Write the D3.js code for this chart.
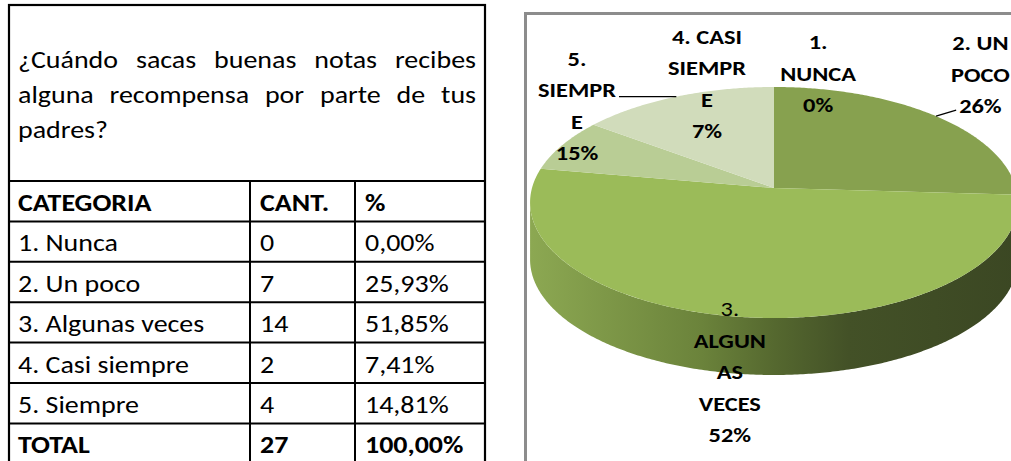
<!DOCTYPE html>
<html>
<head>
<meta charset="utf-8">
<script src="https://cdn.jsdelivr.net/npm/d3@7"></script>
<style>
  body { margin: 0; background: #fff; overflow: hidden; }
  svg { display: block; }
  text { font-family: Carlito, Calibri, Lato, sans-serif; fill: #000; }
</style>
</head>
<body>
<div id="container"></div>
<script>
'use strict'
// ---- data ----
const questionLines = [
  ["¿Cuándo", "sacas", "buenas", "notas", "recibes"],
  ["alguna", "recompensa", "por", "parte", "de", "tus"],
  ["padres?"]
];
const headers = ["CATEGORIA", "CANT.", "%"];
const categories = ["1. Nunca", "2. Un poco", "3. Algunas veces", "4. Casi siempre", "5. Siempre"];
const counts = [0, 7, 14, 2, 4];
const totalLabel = "TOTAL";
// pie labels as they wrap in the chart
const pieLabelLines = [
  ["1.", "NUNCA"],
  ["2. UN", "POCO"],
  ["3.", "ALGUN", "AS", "VECES"],
  ["4. CASI", "SIEMPR", "E"],
  ["5.", "SIEMPR", "E"]
];

// ---- styles / layout ----
const sliceColors = ["#6f8a3a", "#87a14f", "#9bbb59", "#b9cd95", "#d1dcbb"];
const labelPlace = [      // label block centre, polar in pie space (deg clockwise from top, radius factor)
  {a: 10.4, r: 1.155}, {a: 40.8, r: 1.49}, {a: 186.4, r: 1.36}, {a: 343, r: 1.069}, {a: 311.2, r: 1.188}
];
const sx = 1.19;   // the source text is stretched horizontally

const w = 1011, h = 461;
const svg = d3.select("#container").append("svg").attr("width", w).attr("height", h);

const total = d3.sum(counts);
const pct = v => (v / total * 100).toFixed(2).replace(".", ",") + "%";

// stretched text helper
function sText(g, str, x, y, size, weight, anchor) {
  const t = g.append("text").text(str)
    .attr("transform", `translate(${x},${y}) scale(${sx},1)`)
    .attr("text-anchor", anchor || "start")
    .style("font-size", size + "px")
    .style("font-weight", weight || "normal");
  return t;
}
const tw = t => t.node().getComputedTextLength() * sx;

//Table
const tLeft = 9, tRight = 485, tTop = 5;
const colX = [tLeft, 250, 355, tRight];
const headTop = 181, rowH = 40.4;
const rows = [headers]
  .concat(categories.map((c, i) => [c, String(counts[i]), pct(counts[i])]))
  .concat([[totalLabel, String(total), pct(total)]]);

const fs = 23.5;
// question, justified
const qg = svg.append("g");
questionLines.forEach((words, li) => {
  const y = 68 + li * 35;
  const ts = words.map(wd => sText(qg, wd, 0, y, fs));
  const widths = ts.map(tw);
  const last = li === questionLines.length - 1;
  const gap = last ? 6 : (476 - 18 - d3.sum(widths)) / (words.length - 1);
  let x = 18;
  ts.forEach((t, i) => { t.attr("transform", `translate(${x},${y}) scale(${sx},1)`); x += widths[i] + gap; });
});

const tg = svg.append("g");
rows.forEach((r, ri) => {
  const top = headTop + ri * rowH;
  const bold = ri === 0 || ri === rows.length - 1;
  r.forEach((cell, ci) => {
    sText(tg, cell, colX[ci] + (ci === 0 ? 9 : 10), top + 30, fs, bold ? "bold" : "normal");
  });
});
// grid lines
const hLines = d3.range(rows.length + 1).map(i => headTop + i * rowH);
tg.selectAll(".hl").data(hLines).enter().append("line")
  .attr("x1", tLeft).attr("x2", tRight).attr("y1", d => d).attr("y2", d => d)
  .attr("stroke", "#000").attr("stroke-width", 2);
tg.selectAll(".vl").data(colX.slice(1, 3)).enter().append("line")
  .attr("x1", d => d).attr("x2", d => d).attr("y1", headTop).attr("y2", h + 20)
  .attr("stroke", "#000").attr("stroke-width", 2);
tg.append("rect").attr("x", tLeft).attr("y", tTop).attr("width", tRight - tLeft).attr("height", h + 40)
  .attr("fill", "none").attr("stroke", "#000").attr("stroke-width", 2.2);

//Chart frame
svg.append("rect").attr("x", 525.5).attr("y", 13.5).attr("width", 600).attr("height", 600)
  .attr("fill", "none").attr("stroke", "#8c8c8c").attr("stroke-width", 3);

//Pie (perspective projection of a disc)
const cx = 774, cy = 188, R = 242, A = 113.7, k = 0.1255, depth = 57;
function project(a, r) {
  const u = r * Math.sin(a), v = -r * Math.cos(a);
  const ww = 1 - k * v;
  return [cx + R * u / ww, cy + A * v / ww];
}
const arcs = d3.pie().sort(null).value(d => d)(counts);
const line = d3.line();
function arcPts(a0, a1, r = 1) {
  const n = Math.max(2, Math.ceil((a1 - a0) / 0.01));
  return d3.range(n + 1).map(i => project(a0 + (a1 - a0) * i / n, r));
}

const defs = svg.append("defs");
const grad = defs.append("linearGradient").attr("id", "side")
  .attr("gradientUnits", "userSpaceOnUse").attr("x1", 530).attr("x2", 1020).attr("y1", 0).attr("y2", 0);
[[0, "#8ca852"], [0.15, "#7e9848"], [0.35, "#6b833b"], [0.5, "#55682f"], [0.65, "#435127"], [1, "#3b4723"]]
  .forEach(s => grad.append("stop").attr("offset", s[0]).attr("stop-color", s[1]));

// visible front side between the silhouette points
const aMin = Math.acos(-k), aMax = 2 * Math.PI - Math.acos(-k);
const pg = svg.append("g");
arcs.forEach((d, i) => {
  const a0 = Math.max(d.startAngle, aMin), a1 = Math.min(d.endAngle, aMax);
  if (a1 <= a0) return;
  const topPts = arcPts(a0, a1);
  const botPts = topPts.map(p => [p[0], p[1] + depth]).reverse();
  pg.append("path").attr("d", line(topPts.concat(botPts)) + "Z").attr("fill", "url(#side)");
});
// top faces
arcs.forEach((d, i) => {
  if (d.endAngle - d.startAngle <= 0) return;
  const pts = [[cx, cy]].concat(arcPts(d.startAngle, d.endAngle));
  pg.append("path").attr("d", line(pts) + "Z").attr("fill", sliceColors[i]);
});

//Labels
const lh = 31.5;
const lg = svg.append("g");
arcs.forEach((d, i) => {
  const lines = pieLabelLines[i].concat([Math.round(d.value / total * 100) + "%"]);
  const c = project(labelPlace[i].a * Math.PI / 180, labelPlace[i].r);
  const y0 = c[1] - (lines.length - 1) * lh / 2 + 6;
  const texts = lines.map((t, j) => sText(lg, t, c[0], y0 + j * lh, 20.5,
    (i === 2 && j === 0) ? "normal" : "bold", "middle"));
  const maxW = d3.max(texts, tw);
  // leader lines
  const mid = (d.startAngle + d.endAngle) / 2;
  const s = project(mid, 1);
  if (i === 4) {
    lg.append("line").attr("x1", s[0]).attr("y1", s[1]).attr("x2", c[0] + maxW / 2 + 3).attr("y2", s[1])
      .attr("stroke", "#000").attr("stroke-width", 1.3);
  }
  if (i === 1) {
    const pw = tw(texts[texts.length - 1]);
    lg.append("line").attr("x1", s[0]).attr("y1", s[1])
      .attr("x2", c[0] - pw / 2 - 3).attr("y2", y0 + (lines.length - 1) * lh - 3)
      .attr("stroke", "#000").attr("stroke-width", 1.3);
  }
});
</script>
</body>
</html>
